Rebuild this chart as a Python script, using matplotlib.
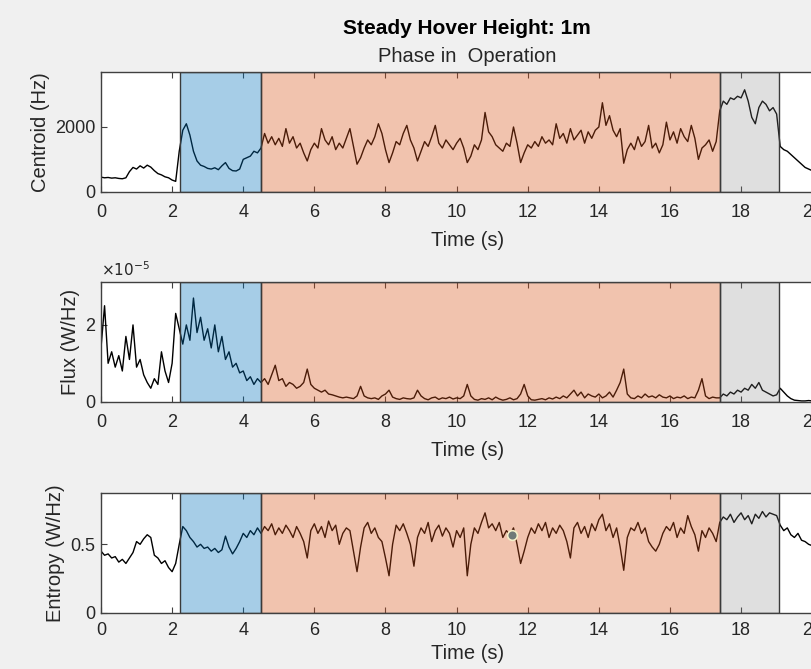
import numpy as np
import matplotlib
matplotlib.use("Agg")
import matplotlib.pyplot as plt

dt = 0.1

centroid_hz = [
    # 0.0-2.1 (before phase)
    450, 430, 440, 420, 430, 410, 400, 430, 620, 750,
    700, 800, 730, 820, 760, 650, 560, 520, 460, 430,
    360, 320,
    # 2.2-4.4 (blue phase)
    1250, 1900, 2100, 1750, 1250, 950, 820, 780,
    720, 700, 740, 680, 800, 900, 720, 650, 640, 700,
    1000, 1050, 1100, 1250, 1200,
    # 4.5-17.3 (operation phase)
    1350, 1800, 1500, 1700, 1450,
    1650, 1400, 1950, 1500, 1700, 1350, 1500, 1200, 950, 1300,
    1500, 1350, 1950, 1600, 1450, 1700, 1300, 1500, 1350, 1650,
    1950, 1400, 850, 1050, 1350, 1600, 1450, 1700, 2100, 1800,
    1300, 900, 1200, 1550, 1450, 1800, 2050, 1600, 1350, 950,
    1250, 1550, 1400, 1700, 2050, 1500, 1350, 1600, 1450, 1300,
    1500, 1650, 1350, 900, 1100, 1450, 1300, 1600, 2450, 1850,
    1700, 1450, 1350, 1250, 1500, 1400, 2000, 1500, 900, 1200,
    1450, 1350, 1550, 1400, 1700, 1500, 1600, 1450, 2100, 1650,
    1800, 1500, 1950, 1600, 1750, 1900, 1500, 1850, 1650, 1900,
    2000, 2750, 2050, 2350, 1900, 1700, 1950, 880, 1300, 1500,
    1300, 1700, 1400, 1550, 2050, 1350, 1500, 1200, 1450, 2150,
    1600, 1850, 1500, 1950, 1700, 1550, 2050, 1650, 1000, 1350,
    1450, 1600, 1250, 1550,
    # 17.4-19.0 (grey phase)
    2500, 2800, 2700, 2900, 2850, 2950, 2900, 3150, 2800, 2300,
    2100, 2600, 2800, 2700, 2500, 2600, 2400,
    # 19.1-21.0 (after)
    1400, 1300, 1250, 1150, 1050, 950, 850, 750, 700, 650,
    600, 580, 560, 540, 520, 500, 500, 480, 470, 460,
]

flux_x1e5 = [
    1.4, 2.5, 1.0, 1.3, 0.9, 1.2, 0.8, 1.7, 1.1, 2.0,
    0.9, 1.1, 0.7, 0.5, 0.35, 0.6, 0.45, 1.3, 0.8, 0.5,
    1.0, 2.3,
    1.9, 1.5, 2.0, 1.6, 2.7, 1.8, 2.2, 1.6,
    1.9, 1.4, 2.0, 1.3, 1.7, 1.1, 1.3, 0.9, 1.0, 0.75,
    0.8, 0.55, 0.65, 0.45, 0.6,
    0.5, 0.6, 0.45, 0.7, 0.95,
    0.55, 0.6, 0.4, 0.5, 0.45, 0.35, 0.4, 0.5, 0.85, 0.45,
    0.35, 0.3, 0.25, 0.3, 0.2, 0.18, 0.15, 0.12, 0.1, 0.12,
    0.1, 0.08, 0.15, 0.4, 0.15, 0.1, 0.08, 0.1, 0.06, 0.15,
    0.2, 0.3, 0.12, 0.08, 0.06, 0.1, 0.08, 0.07, 0.1, 0.3,
    0.15, 0.08, 0.05, 0.1, 0.12, 0.06, 0.1, 0.08, 0.12, 0.07,
    0.1, 0.08, 0.15, 0.45, 0.15, 0.06, 0.04, 0.08, 0.06, 0.1,
    0.05, 0.12, 0.07, 0.04, 0.06, 0.1, 0.05, 0.08, 0.2, 0.45,
    0.15, 0.05, 0.04, 0.06, 0.08, 0.05, 0.1, 0.07, 0.12, 0.08,
    0.15, 0.1, 0.2, 0.3, 0.15, 0.25, 0.1, 0.2, 0.15, 0.12,
    0.2, 0.1, 0.15, 0.25, 0.12, 0.3, 0.5, 0.85, 0.2, 0.1,
    0.08, 0.15, 0.1, 0.2, 0.12, 0.15, 0.1, 0.18, 0.12, 0.1,
    0.15, 0.08, 0.12, 0.1, 0.15, 0.08, 0.12, 0.1, 0.3, 0.6,
    0.15, 0.08, 0.12, 0.1,
    0.1, 0.2, 0.15, 0.25, 0.2, 0.3, 0.25, 0.35, 0.3, 0.45,
    0.35, 0.5, 0.3, 0.25, 0.2, 0.15, 0.18,
    0.35, 0.25, 0.15, 0.08, 0.04, 0.03, 0.02, 0.02, 0.03, 0.02,
    0.02, 0.03, 0.02, 0.02, 0.02, 0.03, 0.02, 0.02, 0.02, 0.02,
]

entropy = [
    0.45, 0.42, 0.43, 0.40, 0.41, 0.37, 0.39, 0.36, 0.40, 0.44,
    0.52, 0.50, 0.54, 0.57, 0.55, 0.42, 0.40, 0.36, 0.38, 0.33,
    0.30, 0.36,
    0.50, 0.63, 0.60, 0.55, 0.52, 0.48, 0.50, 0.47,
    0.48, 0.45, 0.47, 0.44, 0.46, 0.56, 0.48, 0.43, 0.47, 0.52,
    0.58, 0.55, 0.60, 0.57, 0.62,
    0.58, 0.63, 0.60, 0.65, 0.57,
    0.62, 0.58, 0.64, 0.60, 0.55, 0.63, 0.58, 0.52, 0.40, 0.60,
    0.65, 0.58, 0.63, 0.55, 0.67, 0.60, 0.64, 0.50, 0.58, 0.62,
    0.60, 0.45, 0.30, 0.48, 0.62, 0.66, 0.58, 0.62, 0.55, 0.52,
    0.40, 0.27, 0.50, 0.64, 0.60, 0.65, 0.58, 0.50, 0.34, 0.55,
    0.62, 0.58, 0.66, 0.52, 0.60, 0.64, 0.56, 0.62, 0.58, 0.48,
    0.60, 0.55, 0.62, 0.27, 0.50, 0.62, 0.58, 0.66, 0.73, 0.62,
    0.65, 0.60, 0.66, 0.55, 0.60, 0.57, 0.62, 0.50, 0.36, 0.45,
    0.55, 0.62, 0.58, 0.65, 0.60, 0.66, 0.55, 0.62, 0.58, 0.64,
    0.60, 0.52, 0.40, 0.62, 0.66, 0.58, 0.63, 0.55, 0.65, 0.60,
    0.68, 0.72, 0.60, 0.65, 0.55, 0.62, 0.48, 0.31, 0.55, 0.62,
    0.60, 0.66, 0.58, 0.62, 0.52, 0.48, 0.45, 0.50, 0.58, 0.63,
    0.60, 0.66, 0.55, 0.62, 0.58, 0.71, 0.63, 0.57, 0.45, 0.60,
    0.55, 0.62, 0.58, 0.52,
    0.66, 0.70, 0.68, 0.72, 0.66, 0.70, 0.73, 0.68, 0.71, 0.65,
    0.72, 0.69, 0.74, 0.70, 0.73, 0.72, 0.71,
    0.64, 0.60, 0.62, 0.57, 0.55, 0.58, 0.53, 0.52, 0.50, 0.49,
    0.50, 0.48, 0.49, 0.47, 0.48, 0.46, 0.47, 0.45, 0.46, 0.45,
]

time_s = np.round(np.arange(len(centroid_hz)) * dt, 2)

# phase spans: (start s, end s, RGBA face colour)
phase_start = [2.23, 4.50, 17.42]
phase_end = [4.50, 17.42, 19.07]
phase_face = [(0.0, 0.447, 0.741, 0.35),
              (0.85, 0.325, 0.098, 0.35),
              (0.5, 0.5, 0.5, 0.25)]

datatip_t, datatip_v = 11.55, 0.568

main_title = "Steady Hover Height: 1m"
sub_title = "Phase in  Operation"
x_label = "Time (s)"
y_labels = ["Centroid (Hz)", "Flux (W/Hz)", "Entropy (W/Hz)"]
y_lims = [(0, 3700), (0, 3.11), (0, 0.873)]
y_ticks = [[0, 2000], [0, 2], [0, 0.5]]
y_ticklabels = [["0", "2000"], ["0", "2"], ["0", "0.5"]]
x_ticks = list(range(0, 21, 2))
x_lim = (0, 20.6)

# ---------------- figure ----------------
plt.rcParams["font.family"] = ["Liberation Sans", "DejaVu Sans"]
W, H = 812, 669
fig = plt.figure(figsize=(W / 100, H / 100), dpi=100, facecolor="#f0f0f0")

left_px = 101
px_per_s = 35.56
width_px = (x_lim[1] - x_lim[0]) * px_per_s
axes_px = [(72, 191.7), (282.3, 401.7), (493.3, 612.7)]  # (top, bottom) in px
x_labelpads = [7, 7, 3]

series = [centroid_hz, flux_x1e5, entropy]
axes = []
for k, (top, bot) in enumerate(axes_px):
    ax = fig.add_axes([left_px / W, 1 - bot / H, width_px / W, (bot - top) / H])
    ax.set_facecolor("white")
    ax.plot(time_s, series[k], color="black", lw=1.0, zorder=2)
    for s, e, fc in zip(phase_start, phase_end, phase_face):
        ax.axvspan(s, e, facecolor=fc, edgecolor="#3a3a3a", lw=1.0, zorder=3)
    ax.set_xlim(*x_lim)
    ax.set_ylim(*y_lims[k])
    ax.set_xticks(x_ticks)
    ax.set_yticks(y_ticks[k])
    ax.set_yticklabels(y_ticklabels[k])
    ax.tick_params(direction="in", length=4, width=0.8, colors="#404040",
                   labelcolor="#262626", labelsize=13, top=True, right=True)
    ax.tick_params(axis="x", pad=9 if k < 2 else 7)
    ax.tick_params(axis="y", pad=4)
    for sp in ax.spines.values():
        sp.set_color("#404040")
        sp.set_linewidth(1.0)
        sp.set_zorder(4)
    ax.set_xlabel(x_label, fontsize=14.5, color="#262626", labelpad=x_labelpads[k])
    ax.set_ylabel(y_labels[k], fontsize=14.5, color="#262626", labelpad=4)
    axes.append(ax)

# exponent label for flux
axes[1].text(0.0, 1.03, r"$\times10^{-5}$", transform=axes[1].transAxes,
             fontsize=11, color="#262626", ha="left", va="bottom")

# datatip marker
axes[2].plot([datatip_t], [datatip_v], marker="o", ms=7, mfc="#6f7a78",
             mec="#f4f0c8", mew=1.2, zorder=6, ls="none")

cx = (left_px + width_px / 2) / W
fig.text(cx, 1 - 28 / H, main_title, ha="center", va="center",
         fontsize=15, fontweight="bold", color="black")
fig.text(cx, 1 - 56 / H, sub_title, ha="center", va="center",
         fontsize=14.5, color="#262626")

fig.savefig("out.png", dpi=100, facecolor=fig.get_facecolor())
